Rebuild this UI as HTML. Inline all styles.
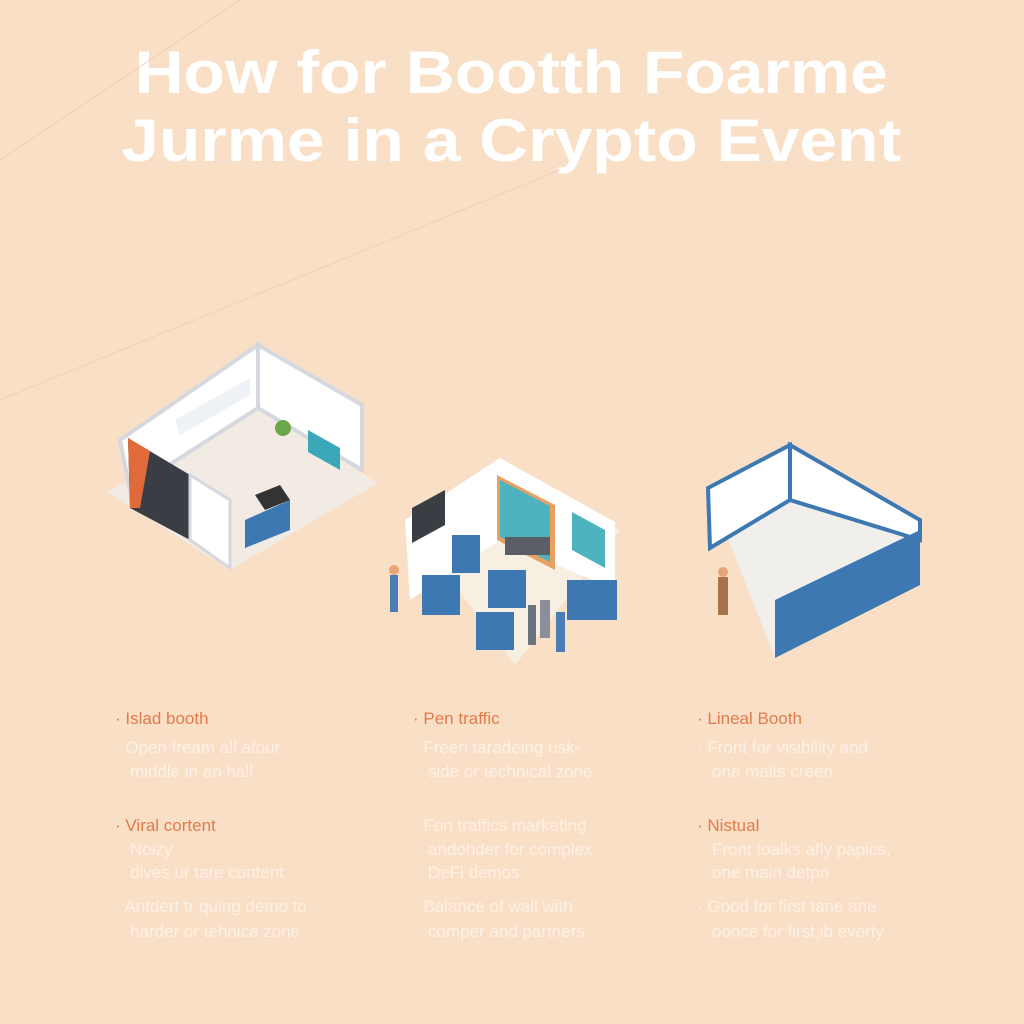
<!DOCTYPE html>
<html><head><meta charset="utf-8"><style>
html,body{margin:0;padding:0}
body{width:1024px;height:1024px;background:#f9dfc5;position:relative;overflow:hidden;font-family:"Liberation Sans",sans-serif}
.t{position:absolute;left:0;width:1024px;text-align:center;color:#fff;font-weight:bold;font-size:60px;line-height:66px;transform:scaleX(1.13);transform-origin:518px 0}
.l{position:absolute;font-size:17px;line-height:20px;color:#fdf1e6;white-space:nowrap}
.h{color:#e27b4c}
</style></head><body>
<div class="t" style="top:40px">How for Bootth Foarme</div>
<div class="t" style="top:108px">Jurme in a Crypto Event</div>
<svg width="1024" height="1024" style="position:absolute;left:0;top:0">
<line x1="0" y1="160" x2="240" y2="0" stroke="#f3cfb3" stroke-width="1"/>
<line x1="0" y1="400" x2="560" y2="170" stroke="#f3cfb3" stroke-width="1"/>
<polygon points="107,492 230,570 378,483 258,408" fill="#f2ebe3"/>
<polygon points="120,440 258,345 258,408 130,490" fill="#fff" stroke="#d5d8de" stroke-width="4"/>
<polygon points="258,345 362,405 362,470 258,408" fill="#fff" stroke="#d5d8de" stroke-width="4"/>
<polygon points="128,438 190,475 190,540 130,508" fill="#3a3d44"/>
<polygon points="128,438 150,451 140,508 130,508" fill="#e06a3a"/>
<polygon points="190,475 230,500 230,568 190,540" fill="#fff" stroke="#d5d8de" stroke-width="3"/>
<polygon points="175,420 250,378 250,395 180,435" fill="#eef2f6"/>
<polygon points="308,430 340,448 340,470 308,452" fill="#3aa8b8"/>
<polygon points="245,520 290,500 290,530 245,548" fill="#3d78b3"/>
<polygon points="255,495 280,485 290,500 265,510" fill="#333"/>
<circle cx="283" cy="428" r="8" fill="#6ca64a"/>
<polygon points="405,520 500,458 620,530 515,665" fill="#f7efe2"/>
<polygon points="405,520 500,458 500,540 410,600" fill="#fff"/>
<polygon points="500,458 615,522 615,590 500,540" fill="#fff"/>
<polygon points="497,475 555,505 555,570 497,540" fill="#e9a060"/>
<polygon points="500,480 550,506 550,562 500,537" fill="#4fb3bf"/>
<polygon points="572,512 605,530 605,568 572,550" fill="#4fb3bf"/>
<polygon points="412,508 445,490 445,525 412,543" fill="#3a3d44"/>
<rect x="452" y="535" width="28" height="38" fill="#3d78b3"/>
<rect x="422" y="575" width="38" height="40" fill="#3d78b3"/>
<rect x="488" y="570" width="38" height="38" fill="#3d78b3"/>
<rect x="476" y="612" width="38" height="38" fill="#3d78b3"/>
<rect x="567" y="580" width="50" height="40" fill="#3d78b3"/>
<rect x="505" y="537" width="45" height="18" fill="#5a5e66"/>
<rect x="390" y="575" width="8" height="37" fill="#4a7db5"/><circle cx="394" cy="570" r="5" fill="#e8a575"/>
<rect x="528" y="605" width="8" height="40" fill="#6b7380"/>
<rect x="540" y="600" width="10" height="38" fill="#8a8f99"/>
<rect x="556" y="612" width="9" height="40" fill="#4a7db5"/>
<polygon points="708,488 790,445 922,530 775,658" fill="#f0efeb"/>
<polygon points="708,488 790,445 790,500 710,548" fill="#fff" stroke="#3d78b3" stroke-width="4"/>
<polygon points="790,445 920,520 920,540 790,500" fill="#fff" stroke="#3d78b3" stroke-width="4"/>
<polygon points="775,600 920,530 920,585 775,658" fill="#3d78b3"/>
<rect x="718" y="577" width="10" height="38" fill="#a7744a"/><circle cx="723" cy="572" r="5" fill="#e8a575"/>
</svg>

<div class="l h" style="left:115px;top:709px">· Islad booth</div>
<div class="l" style="left:115px;top:738px">· Open fream all afour</div>
<div class="l" style="left:130px;top:762px">middle in an hall</div>
<div class="l h" style="left:115px;top:816px">· Viral cortent</div>
<div class="l" style="left:130px;top:840px">Noizy</div>
<div class="l" style="left:130px;top:863px">dives ur tare content</div>
<div class="l" style="left:115px;top:897px">· Antdert tr quing demo to</div>
<div class="l" style="left:130px;top:922px">harder or tehnica zone</div>

<div class="l h" style="left:413px;top:709px">· Pen traffic</div>
<div class="l" style="left:413px;top:738px">· Freen taradeing usk-</div>
<div class="l" style="left:428px;top:762px">side or technical zone</div>
<div class="l" style="left:413px;top:816px">· Fon traffics marketing</div>
<div class="l" style="left:428px;top:840px">andohder for complex</div>
<div class="l" style="left:428px;top:863px">DeFi demos</div>
<div class="l" style="left:413px;top:897px">· Balance of wall with</div>
<div class="l" style="left:428px;top:922px">comper and partners</div>

<div class="l h" style="left:697px;top:709px">· Lineal Booth</div>
<div class="l" style="left:697px;top:738px">· Front for visibility and</div>
<div class="l" style="left:712px;top:762px">one maits creen</div>
<div class="l h" style="left:697px;top:816px">· Nistual</div>
<div class="l" style="left:712px;top:840px">Front toalks afly papics,</div>
<div class="l" style="left:712px;top:863px">one main detpn</div>
<div class="l" style="left:697px;top:897px">· Good for first tane ane</div>
<div class="l" style="left:712px;top:922px">oooce for first,ib everty</div>
</body></html>
